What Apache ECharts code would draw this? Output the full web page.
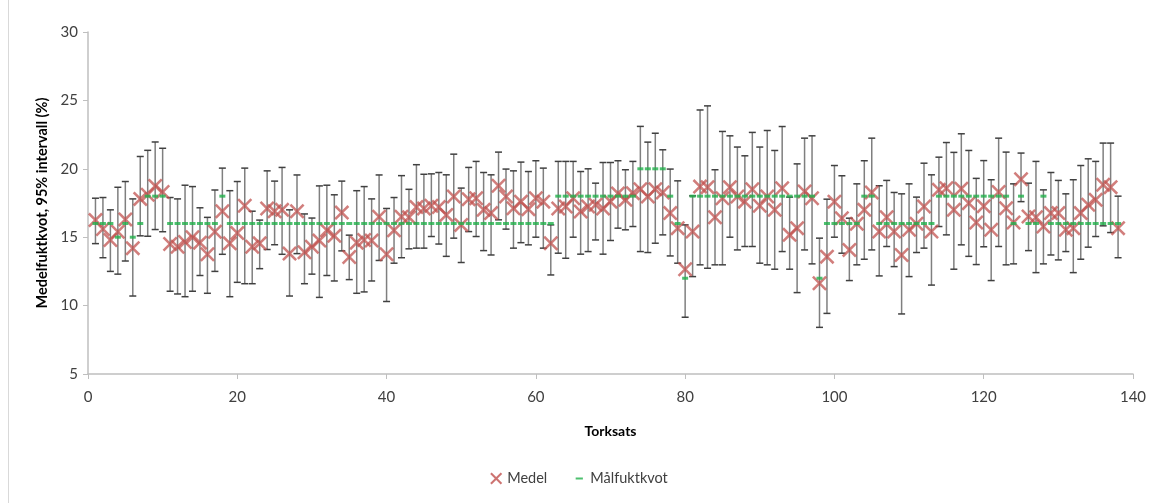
<!DOCTYPE html>
<html><head><meta charset="utf-8">
<script src="https://cdn.jsdelivr.net/npm/echarts@6/dist/echarts.min.js"></script>
<style>html,body{margin:0;padding:0;background:#fff}#c{width:1158px;height:503px}</style>
</head><body><div id="c"></div>
<script>
// Torksats 1..138
const meanVals = [16.25,15.6,14.8,15.4,16.3,14.2,17.8,18.1,18.75,18.3,
14.5,14.3,14.65,15.0,14.6,13.75,15.4,16.9,14.55,15.3,
17.3,14.3,14.55,17.1,16.9,17.0,13.8,16.9,13.9,14.3,
14.75,15.5,15.1,16.8,13.55,14.6,14.8,14.75,16.5,13.75,
15.5,16.5,16.45,17.2,17.1,17.3,17.2,16.63,17.98,15.9,
17.78,17.85,17.0,16.76,18.76,17.98,17.12,17.6,17.05,17.85,
17.6,14.56,17.1,17.24,17.85,16.88,17.24,17.37,17.1,17.6,
18.2,17.73,18.22,18.5,17.98,18.5,18.27,16.76,15.66,12.66,
15.41,18.7,18.66,16.46,17.85,18.66,17.98,17.6,18.5,17.3,
17.98,17.0,18.58,15.17,15.66,18.34,17.85,11.63,13.58,17.6,
16.39,14.07,15.98,17.0,18.27,15.41,16.46,15.41,13.7,15.54,
15.98,17.24,15.41,18.46,18.58,17.0,18.55,17.49,16.07,17.27,
15.54,18.3,17.12,16.07,19.24,16.51,16.46,15.78,16.76,16.76,
15.54,15.66,16.76,17.37,17.73,18.83,18.66,15.66];
const lowVals = [14.53,13.5,12.5,12.3,13.26,10.7,15.1,15.07,15.56,15.4,
11.05,10.85,10.65,11.05,12.2,10.9,12.5,13.75,10.65,11.7,
11.6,11.6,12.7,14.1,14.45,13.75,10.7,13.8,11.6,12.3,
10.6,12.2,11.8,14.0,11.9,10.9,11.0,11.8,13.3,10.3,
13.1,13.5,14.15,14.2,14.2,15.05,14.5,13.6,14.93,13.15,
15.41,15.05,14.02,13.7,16.27,15.59,14.2,14.6,14.44,15.0,
14.2,12.24,13.83,13.46,15.0,13.76,13.95,14.8,13.76,14.76,
15.66,15.54,15.78,13.95,13.88,14.56,15.17,13.63,13.1,9.15,
12.12,12.98,12.73,12.98,12.98,15.0,14.07,14.32,14.32,13.1,
12.98,12.66,13.95,12.66,10.95,14.07,13.05,8.41,9.43,15.0,
13.83,11.83,12.98,13.39,14.07,12.17,14.32,12.85,9.39,12.12,
13.88,14.2,11.5,15.78,15.17,12.66,14.44,13.6,13.0,14.3,
11.83,14.32,12.98,13.05,17.6,14.02,12.41,13.05,13.7,13.34,
13.95,12.41,13.39,14.27,15.05,15.83,15.34,13.5];
const highVals = [17.85,17.9,17.0,18.65,19.07,17.8,20.9,21.35,21.96,21.5,
17.9,17.8,18.8,18.7,17.15,16.45,18.45,20.05,18.4,19.07,
20.05,16.9,16.25,19.85,19.1,20.1,17.0,19.55,16.7,16.4,
18.75,18.8,18.1,19.1,15.15,18.4,18.7,17.8,19.55,17.1,
17.9,19.5,18.5,20.3,19.6,19.63,19.73,19.56,21.07,18.59,
20.1,20.54,19.73,19.56,21.22,19.98,19.85,20.49,19.8,20.59,
20.05,15.9,20.54,20.54,20.54,19.8,20.0,18.95,20.46,20.46,
20.59,19.93,20.54,23.1,21.95,22.6,21.39,19.98,19.12,15.9,
18.02,24.3,24.6,19.93,22.73,22.41,21.59,20.95,22.66,21.59,
22.8,21.34,23.09,17.93,20.36,22.24,22.41,14.93,17.78,20.24,
19.49,16.39,18.9,20.59,22.24,18.76,19.15,18.27,18.17,18.9,
17.93,20.41,19.56,20.85,21.92,21.2,22.56,21.34,19.3,20.6,
19.2,22.24,21.22,18.9,21.15,18.95,20.54,18.46,19.73,19.15,
18.17,19.2,20.24,20.73,20.54,21.88,21.88,18.0];
const targetVals = [16,16,16,15,16,15,16,18,18,18,
16,16,16,16,16,16,16,18,16,16,
16,16,16,16,16,16,16,16,16,16,
16,16,16,16,16,16,16,16,16,16,
16,16,16,16,16,16,16,16,16,16,
16,16,16,16,16,16,16,16,16,16,
16,16,18,18,18,18,18,18,18,18,
18,18,18,20,20,20,20,18,16,12,
18,18,18,18,18,18,18,18,18,18,
18,18,18,18,18,18,18,12,16,16,
16,16,16,18,18,16,16,16,16,16,
16,16,16,18,18,18,18,18,18,18,
18,18,18,16,18,16,16,18,16,16,
16,16,16,16,16,16,16,16];
const yTicks = {min:5, max:30, step:5};
const xTicks = {min:0, max:140, step:20};

const xs = meanVals.map((_, i) => i + 1);
const xPath = 'path://M1.2,0L5,3.8L8.8,0L10,1.2L6.2,5L10,8.8L8.8,10L5,6.2L1.2,10L0,8.8L3.8,5L0,1.2Z';
const dashIcon = 'path://M0,0L0.01,0L0.01,0.01Z M2,4.1L8,4.1L8,5.9L2,5.9Z M10,10L9.99,10L9.99,9.99Z';
const font = 'Lato, "Liberation Sans", sans-serif';

const chart = echarts.init(document.getElementById('c'), null, {renderer:'canvas'});
chart.setOption({
  animation:false,
  backgroundColor:'#fff',
  grid:{left:88, right:25, top:32, bottom:129, containLabel:false},
  graphic:[{type:'line', shape:{x1:8.5,y1:0,x2:8.5,y2:503}, style:{stroke:'#d9d9d9', lineWidth:1}}],
  xAxis:{type:'value', min:xTicks.min, max:xTicks.max, interval:xTicks.step,
    name:'Torksats', nameLocation:'middle', nameGap:50,
    nameTextStyle:{fontFamily:font, fontWeight:'bold', fontSize:14, color:'#000'},
    axisLine:{lineStyle:{color:'#bfbfbf', width:1.5}},
    axisTick:{show:true, length:5, lineStyle:{color:'#bfbfbf'}},
    axisLabel:{fontFamily:font, fontSize:15, color:'#404040', margin:16},
    splitLine:{show:false}},
  yAxis:{type:'value', min:yTicks.min, max:yTicks.max, interval:yTicks.step,
    name:'Medelfuktkvot, 95% intervall (%)', nameLocation:'middle', nameGap:36, nameRotate:90,
    nameTextStyle:{fontFamily:font, fontWeight:'bold', fontSize:14.5, color:'#000'},
    axisLine:{show:true, lineStyle:{color:'#bfbfbf', width:1.5}},
    axisTick:{show:true, length:5, lineStyle:{color:'#bfbfbf'}},
    axisLabel:{fontFamily:font, fontSize:15, color:'#404040', margin:10},
    splitLine:{show:false}},
  legend:{bottom:12, left:'center', itemGap:26, itemWidth:12, itemHeight:12,
    textStyle:{fontFamily:font, fontSize:14.5, color:'#404040'},
    data:[{name:'Medel', icon:xPath, itemStyle:{color:'#c0504d'}},
          {name:'Målfuktkvot', icon:dashIcon, itemStyle:{color:'#22b04b'}}]},
  series:[
    {type:'custom', name:'ci', z:1, silent:true,
     data: xs.map((x,i)=>[x, lowVals[i], highVals[i]]),
     renderItem:function(params, api){
       const x = api.value(0);
       const a = api.coord([x, api.value(1)]);
       const b = api.coord([x, api.value(2)]);
       const w = 3.5;
       return {type:'group', children:[
         {type:'line', shape:{x1:a[0], y1:a[1], x2:b[0], y2:b[1]}, style:{stroke:'#7f7f7f', lineWidth:1.5}},
         {type:'line', shape:{x1:a[0]-w, y1:a[1], x2:a[0]+w, y2:a[1]}, style:{stroke:'#404040', lineWidth:1.5}},
         {type:'line', shape:{x1:b[0]-w, y1:b[1], x2:b[0]+w, y2:b[1]}, style:{stroke:'#404040', lineWidth:1.5}}
       ]};
     }},
    {type:'scatter', name:'Medel', z:2, symbol:xPath, symbolSize:15,
     itemStyle:{color:'rgba(192,80,77,0.92)'},
     data: xs.map((x,i)=>[x, meanVals[i]])},
    {type:'scatter', name:'Målfuktkvot', z:3, symbol:'rect', symbolSize:[6,3],
     itemStyle:{color:'#22b04b'},
     data: xs.map((x,i)=>[x, targetVals[i]])}
  ]
});
</script></body></html>
